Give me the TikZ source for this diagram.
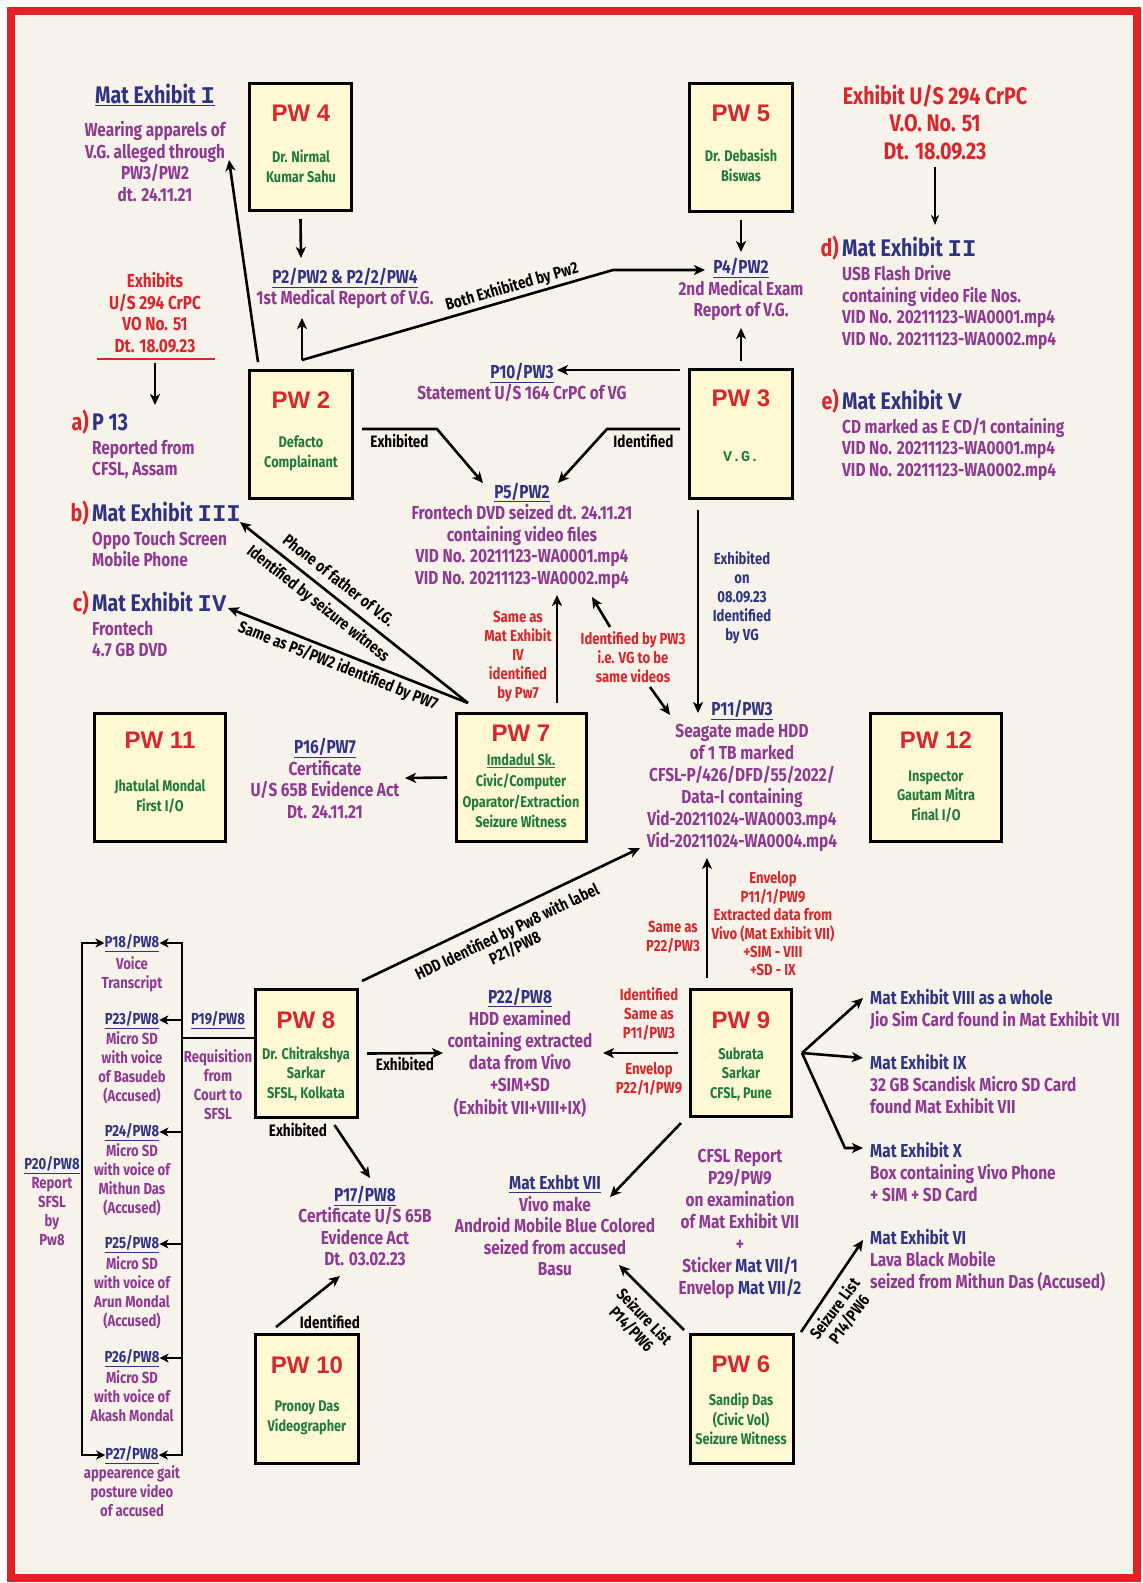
\documentclass[tikz,border=0pt]{standalone}
\usepackage{fontspec}
\setmainfont{Fira Sans}[FakeStretch=0.82]
\newfontfamily\pwf{Liberation Sans}
\newfontfamily\romf{Liberation Mono}
\usetikzlibrary{arrows.meta,calc}
\definecolor{bgc}{HTML}{F8F3EA}
\definecolor{framec}{HTML}{E02126}
\definecolor{boxc}{HTML}{FEF9D3}
\definecolor{rd}{HTML}{D8262C}
\definecolor{nv}{HTML}{2E3383}
\definecolor{pu}{HTML}{8E3A93}
\definecolor{gr}{HTML}{1F7A3C}
\newcommand\rn[1]{{\romf\bfseries #1}}
\newcommand\uln[1]{\textcolor{nv}{\underline{#1}}}
\begin{document}
\begin{tikzpicture}[x=1pt,y=-1pt,
 pwbox/.style n args={2}{draw=black, line width=3pt, fill=boxc, minimum width=#1, minimum height=#2, inner sep=0pt},
 pwt/.style={font=\pwf\bfseries\fontsize{24}{24}\selectfont, text=rd, inner sep=0pt},
 pws/.style={font=\bfseries\fontsize{15.5}{19.5}\selectfont, text=gr, align=center, inner sep=0pt},
 body/.style={font=\bfseries\fontsize{18.8}{21.5}\selectfont, text=pu, align=center, inner sep=0pt},
 bodyl/.style={body, align=left},
 sm/.style={font=\bfseries\fontsize{16}{19}\selectfont, text=pu, align=center, inner sep=0pt},
 smr/.style={sm, text=rd},
 hd/.style={font=\bfseries\fontsize{24}{28}\selectfont, text=nv, inner sep=0pt},
 lbl/.style={font=\bfseries\fontsize{16.5}{18}\selectfont, text=black, inner sep=0pt, align=center},
 arr/.style={line width=2.6pt, -{Stealth[length=11pt,width=10pt,inset=3pt]}},
 sarr/.style={line width=2.4pt, -{Stealth[length=9pt,width=9pt,inset=2.5pt]}},
 ln/.style={line width=2.6pt}]
% frame
\fill[white] (0,0) rectangle (1143,1583);
\fill[framec] (7,7) rectangle (1141,1582);
\fill[bgc] (15,15) rectangle (1133,1574);
\useasboundingbox (0,0) rectangle (1143,1583);

% boxes
\node[pwbox={102}{127}] (pw4) at (300.5,147) {};
\node[pwbox={103}{128}] (pw5) at (741,147.5) {};
\node[pwbox={103}{128}] (pw2) at (301,434.5) {};
\node[pwbox={103}{129}] (pw3) at (741,434) {};
\node[pwbox={131}{128}] (pw11) at (160,777.5) {};
\node[pwbox={130}{128}] (pw7) at (521.5,777.5) {};
\node[pwbox={131}{128}] (pw12) at (936,777.5) {};
\node[pwbox={102}{128}] (pw8) at (306.5,1053.5) {};
\node[pwbox={101}{127}] (pw9) at (741,1053) {};
\node[pwbox={103}{129}] (pw10) at (307,1399) {};
\node[pwbox={103}{129}] (pw6) at (742,1399) {};

% box texts
\node[pwt] (pw4t) at (301,113) {PW 4};
\node[pws] (pw4s) at (301,166.5) {Dr. Nirmal\\Kumar Sahu};
\node[pwt] (pw5t) at (741,113) {PW 5};
\node[pws] (pw5s) at (741,165.5) {Dr. Debasish\\Biswas};
\node[pwt] (pw2t) at (301,400) {PW 2};
\node[pws] (pw2s) at (301,453.5) {Defacto\\Complainant};
\node[pwt] (pw3t) at (741,398) {PW 3};
\node[pws, font=\romf\bfseries\fontsize{15}{16}\selectfont] (pw3s) at (741,457) {V.G.};
\node[pwt] (pw11t) at (160,740) {PW 11};
\node[pws] (pw11s) at (160,796.5) {Jhatulal Mondal\\First I/O};
\node[pwt] (pw7t) at (521,733) {PW 7};
\node[pws, font=\bfseries\fontsize{15.5}{20.7}\selectfont] (pw7s) at (521,791) {\underline{Imdadul Sk.}\\Civic/Computer\\Oparator/Extraction\\Seizure Witness};
\node[pwt] (pw12t) at (936,740) {PW 12};
\node[pws] (pw12s) at (936,796) {Inspector\\Gautam Mitra\\Final I/O};
\node[pwt] (pw8t) at (306,1020) {PW 8};
\node[pws] (pw8s) at (306,1074) {Dr. Chitrakshya\\Sarkar\\SFSL, Kolkata};
\node[pwt] (pw9t) at (741,1020) {PW 9};
\node[pws] (pw9s) at (741,1074) {Subrata\\Sarkar\\CFSL, Pune};
\node[pwt] (pw10t) at (307,1365) {PW 10};
\node[pws] (pw10s) at (307,1418) {Pronoy Das\\Videographer};
\node[pwt] (pw6t) at (741,1364) {PW 6};
\node[pws] (pw6s) at (741,1419) {Sandip Das\\(Civic Vol)\\Seizure Witness};

% top left
\node[hd] (m1) at (155,95) {\underline{Mat Exhibit \rn{I}}};
\node[body] (m1d) at (155,161.5) {Wearing apparels of\\V.G. alleged through\\PW3/PW2\\dt. 24.11.21};
\node[body, text=rd] (exl) at (155,312.5) {Exhibits\\U/S 294 CrPC\\VO No. 51\\Dt. 18.09.23};
\draw[rd, line width=2.5pt] (97,359) -- (215,359);
\node[hd, anchor=base east, text=rd] (la) at (89,430) {a)};
\node[hd, anchor=base west] (pa) at (92,430) {P 13};
\node[bodyl, anchor=north west] (pad) at (92,440) {Reported from\\CFSL, Assam};
\node[hd, anchor=base east, text=rd] (lb) at (89,521) {b)};
\node[hd, anchor=base west] (pb) at (92,521) {Mat Exhibit \rn{III}};
\node[bodyl, anchor=north west] (pbd) at (92,531) {Oppo Touch Screen\\Mobile Phone};
\node[hd, anchor=base east, text=rd] (lc) at (89,611) {c)};
\node[hd, anchor=base west] (pc) at (92,611) {Mat Exhibit \rn{IV}};
\node[bodyl, anchor=north west] (pcd) at (92,621) {Frontech\\4.7 GB DVD};

% middle top
\node[body] (p2) at (345,288.5) {\uln{P2/PW2 \& P2/2/PW4}\\1st Medical Report of V.G.};
\node[body] (p4) at (741,289.5) {\uln{P4/PW2}\\2nd Medical Exam\\Report of V.G.};
\node[body] (p10) at (522,382.5) {\uln{P10/PW3}\\Statement U/S 164 CrPC of VG};
\node[body] (p5) at (522,535.5) {\uln{P5/PW2}\\Frontech DVD seized dt. 24.11.21\\containing video files\\VID No. 20211123-WA0001.mp4\\VID No. 20211123-WA0002.mp4};
\node[smr] (same4) at (518,656.5) {Same as\\Mat Exhibit\\IV\\identified\\by Pw7};
\node[smr] (idpw3) at (633,657) {Identified by PW3\\i.e. VG to be\\same videos};
\node[sm, text=nv] (exon) at (742,597.5) {Exhibited\\on\\08.09.23\\Identified\\by VG};
\node[body, font=\bfseries\fontsize{18.8}{22}\selectfont] (p11) at (742,776) {\uln{P11/PW3}\\Seagate made HDD\\of 1 TB marked\\CFSL-P/426/DFD/55/2022/\\Data-I containing\\Vid-20211024-WA0003.mp4\\Vid-20211024-WA0004.mp4};
\node[body] (p16) at (325,778.5) {\uln{P16/PW7}\\Certificate\\U/S 65B Evidence Act\\Dt. 24.11.21};

% top right
\node[font=\bfseries\fontsize{24}{27.5}\selectfont, text=rd, align=center, inner sep=0pt] (ex2) at (935,122.5) {Exhibit U/S 294 CrPC\\V.O. No. 51\\Dt. 18.09.23};
\node[hd, anchor=base east, text=rd] (ld) at (839,256) {d)};
\node[hd, anchor=base west] (pd) at (842,256) {Mat Exhibit \rn{II}};
\node[bodyl, anchor=north west] (pdd) at (842,265.5) {USB Flash Drive\\containing video File Nos.\\VID No. 20211123-WA0001.mp4\\VID No. 20211123-WA0002.mp4};
\node[hd, anchor=base east, text=rd] (le) at (839,409) {e)};
\node[hd, anchor=base west] (pe) at (842,409) {Mat Exhibit \rn{V}};
\node[bodyl, anchor=north west] (ped) at (842,417.5) {CD marked as E CD/1 containing\\VID No. 20211123-WA0001.mp4\\VID No. 20211123-WA0002.mp4};

% lower middle
\node[body, font=\bfseries\fontsize{18.8}{22.2}\selectfont] (p22) at (520,1052.5) {\uln{P22/PW8}\\HDD examined\\containing extracted\\data from Vivo\\+SIM+SD\\(Exhibit VII+VIII+IX)};
\node[smr] (same22) at (673,937.5) {Same as\\P22/PW3};
\node[smr, font=\bfseries\fontsize{16}{18.4}\selectfont] (env11) at (773,924) {Envelop\\P11/1/PW9\\Extracted data from\\Vivo (Mat Exhibit VII)\\+SIM - VIII\\+SD - IX};
\node[smr] (id11) at (649,1014) {Identified\\Same as\\P11/PW3};
\node[smr] (env22) at (649,1079) {Envelop\\P22/1/PW9};
\node[body] (m7) at (555,1226) {\uln{Mat Exhbt VII}\\Vivo make\\Android Mobile Blue Colored\\seized from accused\\Basu};
\node[body, font=\bfseries\fontsize{18.8}{22}\selectfont] (cfsl) at (740,1224) {CFSL Report\\P29/PW9\\on examination\\of Mat Exhibit VII\\+\\Sticker \textcolor{nv}{Mat VII/1}\\Envelop \textcolor{nv}{Mat VII/2}};
\node[body] (p17) at (365,1226) {\uln{P17/PW8}\\Certificate U/S 65B\\Evidence Act\\Dt. 03.02.23};

% right column
\node[bodyl, font=\bfseries\fontsize{18.8}{22}\selectfont, anchor=north west] (m8) at (870,989.5) {\textcolor{nv}{Mat Exhibit VIII as a whole}\\Jio Sim Card found in Mat Exhibit VII};
\node[bodyl, font=\bfseries\fontsize{18.8}{22}\selectfont, anchor=north west] (m9) at (870,1054.5) {\textcolor{nv}{Mat Exhibit IX}\\32 GB Scandisk Micro SD Card\\found Mat Exhibit VII};
\node[bodyl, font=\bfseries\fontsize{18.8}{22}\selectfont, anchor=north west] (m10) at (870,1142.5) {\textcolor{nv}{Mat Exhibit X}\\Box containing Vivo Phone\\+ SIM + SD Card};
\node[bodyl, font=\bfseries\fontsize{18.8}{22}\selectfont, anchor=north west] (m6) at (870,1229.5) {\textcolor{nv}{Mat Exhibit VI}\\Lava Black Mobile\\seized from Mithun Das (Accused)};

% left column
\node[sm] (p18h) at (132,943) {\uln{P18/PW8}};
\node[sm] (p18d) at (132,974) {Voice\\Transcript};
\node[sm] (p23h) at (132,1020) {\uln{P23/PW8}};
\node[sm] (p23d) at (132,1067.5) {Micro SD\\with voice\\of Basudeb\\(Accused)};
\node[sm] (p24h) at (132,1132) {\uln{P24/PW8}};
\node[sm] (p24d) at (132,1180) {Micro SD\\with voice of\\Mithun Das\\(Accused)};
\node[sm] (p25h) at (132,1244) {\uln{P25/PW8}};
\node[sm] (p25d) at (132,1293) {Micro SD\\with voice of\\Arun Mondal\\(Accused)};
\node[sm] (p26h) at (132,1358) {\uln{P26/PW8}};
\node[sm] (p26d) at (132,1396.5) {Micro SD\\with voice of\\Akash Mondal};
\node[sm] (p27h) at (132,1455) {\uln{P27/PW8}};
\node[sm] (p27d) at (132,1491.5) {appearence gait\\posture video\\of accused};
\node[sm] (p20) at (52,1201.5) {\uln{P20/PW8}\\Report\\SFSL\\by\\Pw8};
\node[sm] (p19) at (218,1020) {\uln{P19/PW8}};
\node[sm] (req) at (218,1085) {Requisition\\from\\Court to\\SFSL};

% ---------- connectors ----------
\coordinate (j2) at (302,360);
\coordinate (bend1) at (613,270);
\coordinate (p4in) at (705,270);
\draw[arr] ($(pw4.south)+(0,7)$) -- (301,258) coordinate (p2in);
\draw[arr] ($(pw2.north)+(-43,-7)$) -- (229,160) coordinate (m1in);
\draw[arr] (j2) -- (302,318) coordinate (p2in2);
\draw[arr] (j2) -- (bend1) -- (p4in);
\node[lbl, rotate=16.1] (lboth) at (512,287) {Both Exhibited by Pw2};
\draw[arr] ($(pw5.south)+(0,7)$) -- (741,252) coordinate (p4in2);
\draw[arr] ($(pw3.north)+(0,-7)$) -- (741,328) coordinate (p4in3);
\draw[arr] ($(pw3.north west)+(-8,2)$) -- (557,370) coordinate (p10in);
\draw[arr] ($(pw2.east)+(8,-5.5)$) -- node[lbl, below=4pt, pos=0.5] (lexh1) {Exhibited} (437,429) -- (483,483) coordinate (p5in1);
\draw[arr] ($(pw3.west)+(-8,-5)$) -- node[lbl, below=4pt, pos=0.5] (lid1) {Identified} (607,429) -- (558,483) coordinate (p5in2);
\draw[arr] ($(pw7.north)+(35.5,-9)$) -- (557,595) coordinate (p5in3);
\draw[arr] (610,627) coordinate (idu) -- (592,597) coordinate (p5in4);
\draw[arr] (650,687) coordinate (idd) -- (670,715) coordinate (p11in1);
\draw[arr] ($(pw3.south)+(-43,10)$) -- (698,713) coordinate (p11in2);
\draw[arr] ($(pw9.north)+(-34,-10)$) -- (707,858) coordinate (p11in3);
\draw[arr] ($(pw7.west)+(-8,0)$) -- (405,778) coordinate (p16in);
\draw[arr] ($(exl.south)+(0,10)$) -- (155,405) coordinate (pain);
\coordinate (c7) at (468,703);
\draw[arr] (c7) -- (240,522) coordinate (pbin);
\draw[arr] (c7) -- (228,608) coordinate (pcin);
\node[lbl, rotate=-38.4] (lph) at (339,580) {Phone of father of V.G.};
\node[lbl, rotate=-38.4] (lsw) at (318,604) {Identified by seizure witness};
\node[lbl, rotate=-21.6] (lsame) at (338,666) {Same as P5/PW2 identified by PW7};
\draw[line width=1.8pt, -{Stealth[length=10pt,width=8pt,inset=3pt]}] ($(ex2.south)+(0,7)$) -- (935,225) coordinate (pdin);
\draw[arr] ($(pw8.north east)+(3,-7)$) -- (640,848) coordinate (p11in4);
\node[lbl, rotate=25.6] (lhdd) at (511,940) {HDD Identified by Pw8 with label\\P21/PW8};
\draw[arr] ($(pw8.east)+(8,0)$) -- node[lbl, below=3pt] (lexh2) {Exhibited} (443,1053) coordinate (p22in1);
\draw[arr] ($(pw9.west)+(-11,0)$) -- (603,1053) coordinate (p22in2);
\draw[arr] ($(pw9.south west)+(-8,5)$) -- (610,1197) coordinate (m7in);
\coordinate (f9) at (802,1053);
\draw[arr] (f9) -- (863,998) coordinate (m8in);
\draw[arr] (f9) -- (863,1058) coordinate (m9in);
\draw[arr] (f9) -- (845,1148) -- (863,1148) coordinate (m10in);
\draw[arr] ($(pw6.north west)+(-5,-3)$) -- (619,1265) coordinate (m7in2);
\node[lbl, rotate=-46] (lsl1) at (638,1323) {Seizure List\\P14/PW6};
\draw[arr] ($(pw6.north east)+(6,-1)$) -- (863,1240) coordinate (m6in);
\node[lbl, rotate=53] (lsl2) at (842,1314) {Seizure List\\P14/PW6};
\draw[arr] ($(pw10.north)+(-31,-6)$) -- (340,1276) coordinate (p17in);
\node[lbl] (lid2) at (330,1322) {Identified};
\draw[arr] ($(pw8.south)+(28,6)$) -- (370,1178) coordinate (p17in2);
\node[lbl] (lexh3) at (298,1130) {Exhibited};

% bracket
\draw[sarr, {Stealth[length=9pt,width=9pt,inset=2.5pt]}-{Stealth[length=9pt,width=9pt,inset=2.5pt]}] (p18h.west) -- (82,943) -- (82,1455) -- (p27h.west);
\draw[sarr, {Stealth[length=9pt,width=9pt,inset=2.5pt]}-{Stealth[length=9pt,width=9pt,inset=2.5pt]}] (p18h.east) -- (182,943) -- (182,1455) -- (p27h.east);
\draw[sarr] (182,1020) -- (p23h.east);
\draw[sarr] (182,1132) -- (p24h.east);
\draw[sarr] (182,1244) -- (p25h.east);
\draw[sarr] (182,1358) -- (p26h.east);
\draw[line width=2.4pt] (pw8.west |- 0,1038) -- (182,1038);
\end{tikzpicture}
\end{document}
